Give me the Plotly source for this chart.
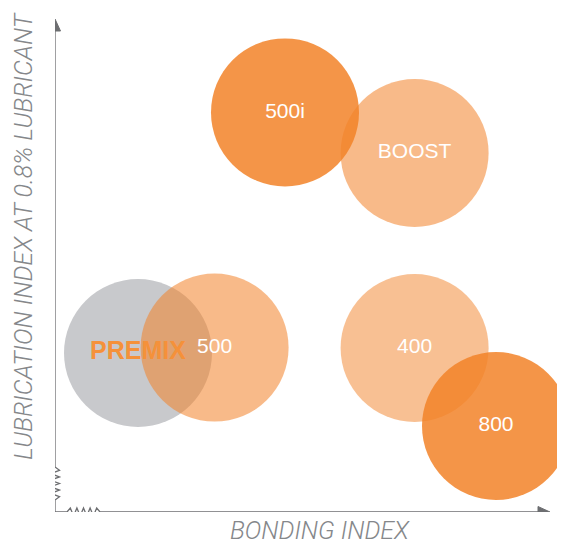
import plotly.graph_objects as go

# ---- data ----
products = ["PREMIX", "500", "BOOST", "500i", "400", "800"]
bonding_index = [2.075, 3.99, 8.99, 5.75, 8.99, 11.025]
lubrication_index = [3.975, 4.11, 8.975, 9.99, 4.10, 2.15]
fill_colors = [
    "rgba(200,201,204,1)",
    "rgba(242,130,40,0.55)",
    "rgba(242,130,40,0.55)",
    "rgba(242,130,40,0.85)",
    "rgba(242,130,40,0.50)",
    "rgba(242,130,40,0.85)",
]

OFF = 8  # page body margin offset
PX_PER_UNIT = 40.0
W, H = 565 - OFF, 547 - OFF
ML = 55 - OFF
PLOT_BOTTOM = 512 - OFF
MB = H - PLOT_BOTTOM
X_MAX = (W - ML) / PX_PER_UNIT
Y_MAX = PLOT_BOTTOM / PX_PER_UNIT
DIAM = 148
AXIS_COLOR = "#6d6e71"

fig = go.Figure()

for name, x, y, c in zip(products, bonding_index, lubrication_index, fill_colors):
    fig.add_trace(go.Scatter(
        x=[x], y=[y], mode="markers", name=name,
        marker=dict(size=DIAM, color=c, line=dict(width=0)),
        cliponaxis=False, hoverinfo="skip", showlegend=False,
    ))

# white labels
white_names = [p for p in products if p != "PREMIX"]
wx = [bonding_index[products.index(p)] for p in white_names]
wy = [lubrication_index[products.index(p)] for p in white_names]
fig.add_trace(go.Scatter(
    x=wx, y=wy, mode="text", text=white_names, textposition="middle center",
    textfont=dict(family="Liberation Sans, Arial, sans-serif", size=21, color="white"),
    cliponaxis=False, hoverinfo="skip", showlegend=False,
))
i = products.index("PREMIX")
fig.add_trace(go.Scatter(
    x=[bonding_index[i]], y=[lubrication_index[i]], mode="text", text=["PREMIX"],
    textposition="middle center",
    textfont=dict(family="Liberation Sans, Arial, sans-serif", size=25, color="#f5913a", weight="bold"),
    cliponaxis=False, hoverinfo="skip", showlegend=False,
))

# ---- axes drawn as shapes (data units) ----
def u(px):
    return px / PX_PER_UNIT

def zigzag_x(x0, x1, amp, n):
    pts = [(x0, 0)]
    step = (x1 - x0) / (2 * n)
    for k in range(1, 2 * n):
        pts.append((x0 + k * step, amp if k % 2 == 1 else -amp))
    pts.append((x1, 0))
    return pts

def zigzag_y(y0, y1, amp, n):
    return [(py, px) for px, py in zigzag_x(y0, y1, amp, n)]

# x axis
xpts = [(0, 0)] + zigzag_x(u(12), u(45), u(4), 5) + [(u(484), 0)]
path_x = "M " + " L ".join(f"{a},{b}" for a, b in xpts)
fig.add_shape(type="path", path=path_x, xref="x", yref="y",
              line=dict(color=AXIS_COLOR, width=1.3))
fig.add_shape(type="path", xref="x", yref="y",
              path=f"M {u(483)},{u(5.5)} L {u(495)},0 L {u(483)},{-u(5.5)} Z",
              fillcolor=AXIS_COLOR, line=dict(color=AXIS_COLOR, width=1))
# y axis
ypts = [(0, 0)] + zigzag_y(u(12), u(45), u(4.5), 5) + [(0, u(482))]
path_y = "M " + " L ".join(f"{a},{b}" for a, b in ypts)
fig.add_shape(type="path", path=path_y, xref="x", yref="y",
              line=dict(color=AXIS_COLOR, width=1.3))
fig.add_shape(type="path", xref="x", yref="y",
              path=f"M {-u(5.5)},{u(481)} L 0,{u(493)} L {u(5.5)},{u(481)} Z",
              fillcolor=AXIS_COLOR, line=dict(color=AXIS_COLOR, width=1))

title_font = dict(family="Roboto, Liberation Sans, sans-serif", size=25, color="#85878a",
                  style="italic", weight=300)
fig.add_annotation(text="BONDING INDEX", xref="paper", yref="paper",
                   x=(320 - OFF - ML) / (W - ML), y=-MB / PLOT_BOTTOM,
                   showarrow=False, font=title_font, xanchor="center", yanchor="bottom")
fig.add_annotation(text="LUBRICATION INDEX AT 0.8% LUBRICANT", xref="paper", yref="paper",
                   x=(24 - OFF - ML) / (W - ML), y=(PLOT_BOTTOM - (236 - OFF)) / PLOT_BOTTOM,
                   textangle=-90,
                   showarrow=False, font=title_font, xanchor="center", yanchor="middle")

fig.update_layout(
    width=W, height=H,
    margin=dict(l=ML, r=0, t=0, b=MB, pad=0),
    paper_bgcolor="white", plot_bgcolor="white",
    xaxis=dict(range=[0, X_MAX], visible=False, fixedrange=True),
    yaxis=dict(range=[0, Y_MAX], visible=False, fixedrange=True),
    showlegend=False,
)

fig.write_html("out.html")
